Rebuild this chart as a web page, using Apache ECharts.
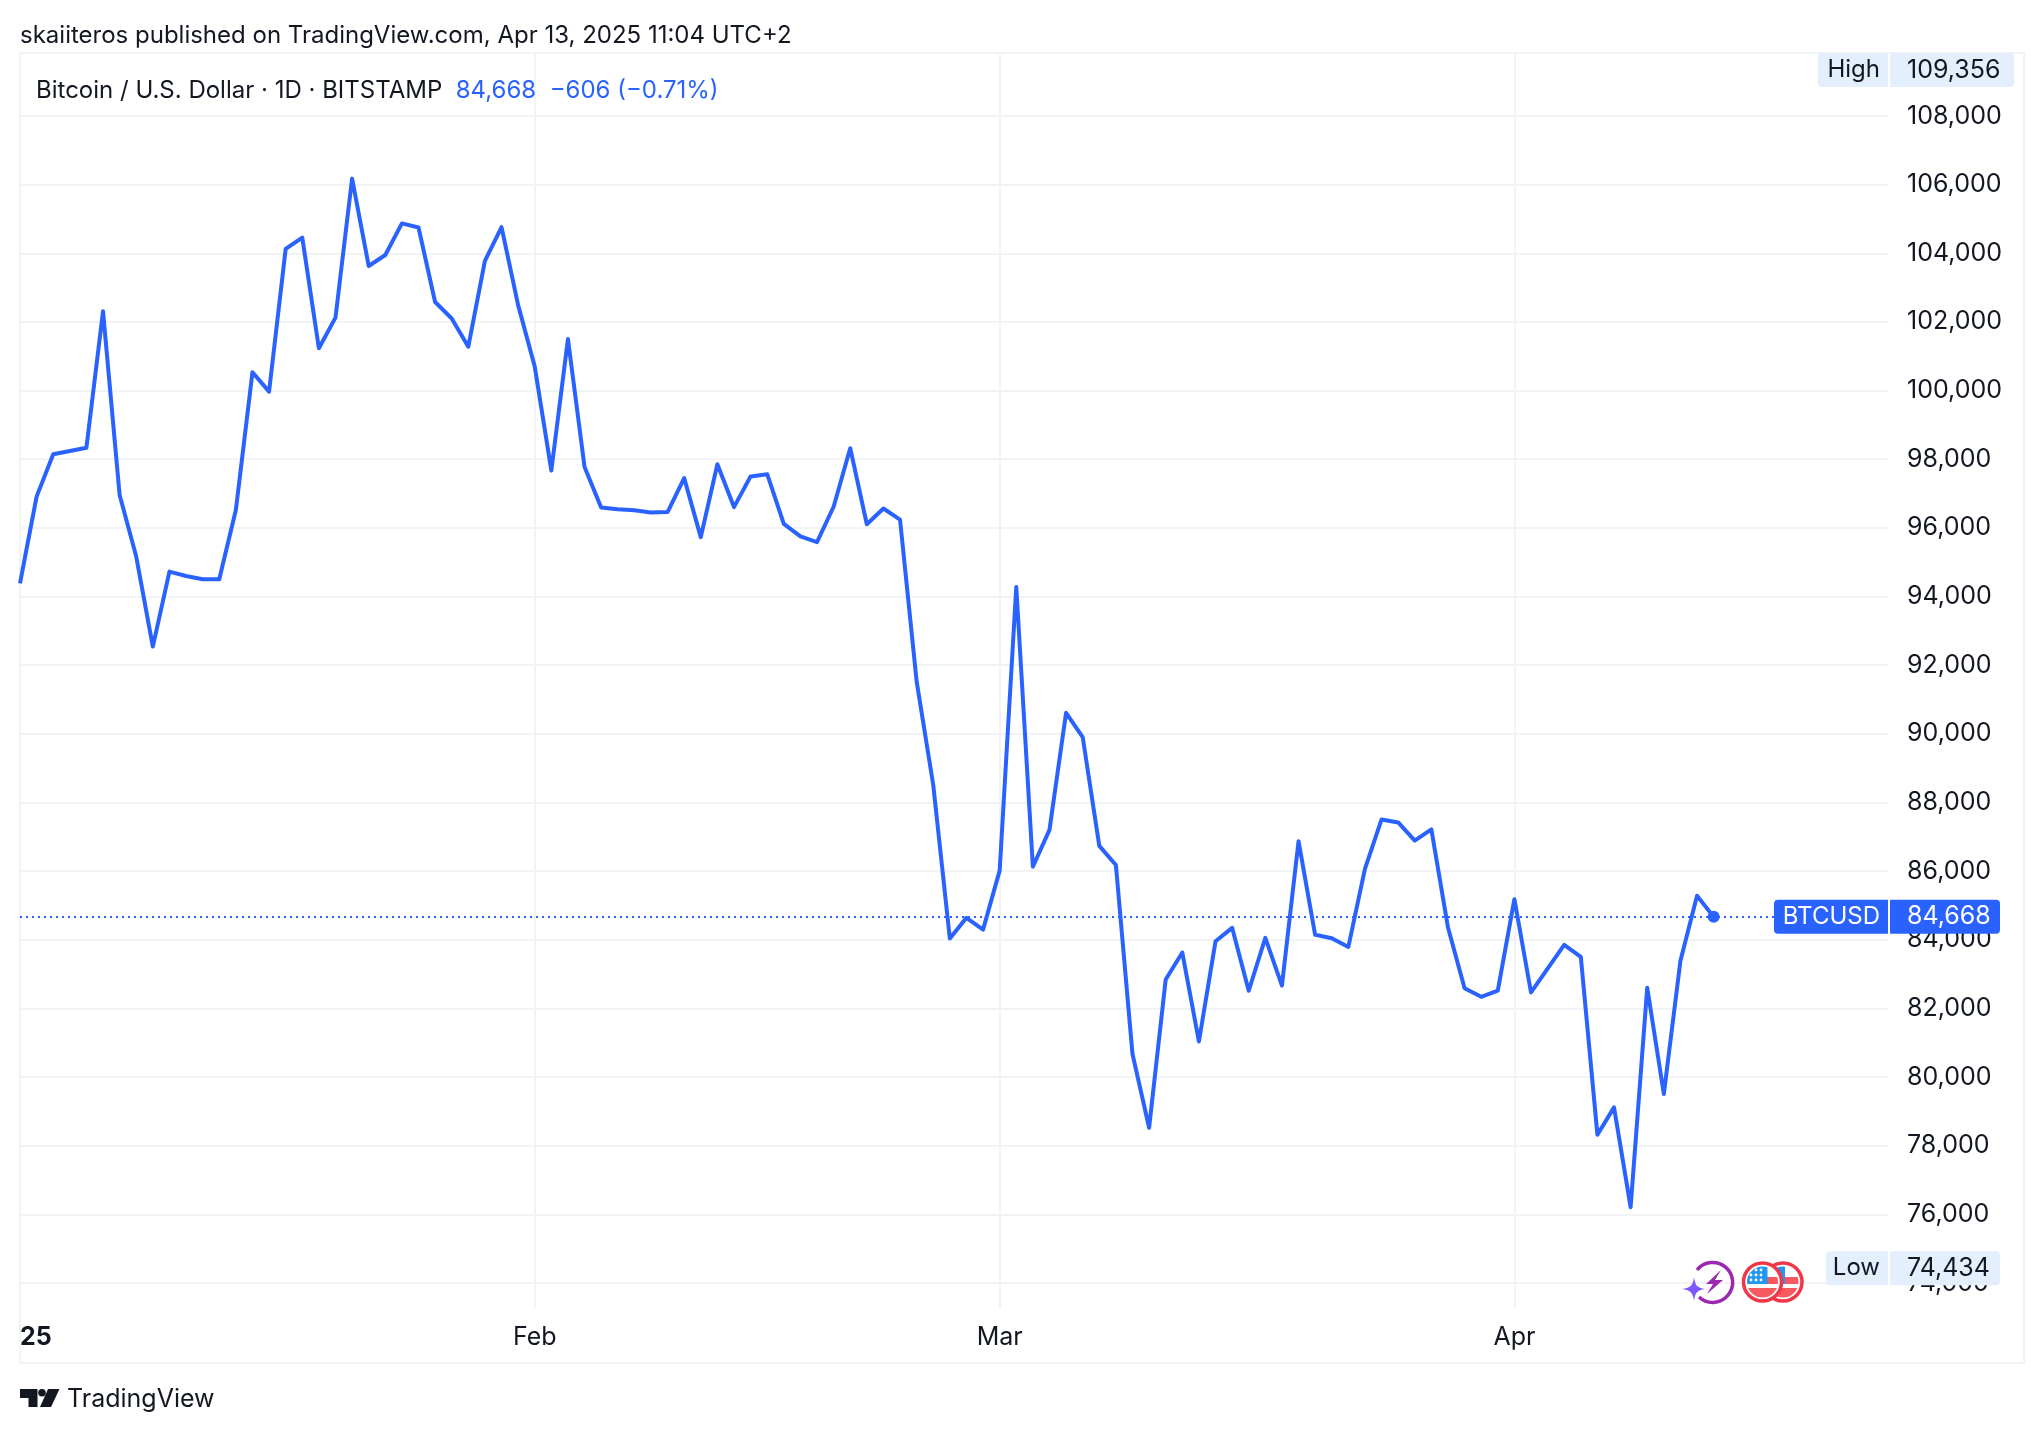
<!DOCTYPE html>
<html>
<head>
<meta charset="utf-8">
<title>BTCUSD daily</title>
<style>html,body{margin:0;padding:0;background:#fff}#chart{display:block;width:2044px;height:1434px}</style>
<script src="https://cdn.jsdelivr.net/npm/echarts@6/dist/echarts.min.js"></script>
</head>
<body>
<div id="chart"></div>
<script>
// Daily closes, 1 Jan 2025 to 13 Apr 2025 (day 0 = 1 Jan)
const closes = [
  94387, 96911, 98144, 98240, 98337, 102310, 96960, 95164, 92542, 94727,
  94600, 94503, 94503, 96520, 100533, 99970, 104126, 104456, 101232, 102126,
  106175, 103630, 103950, 104870, 104750, 102580, 102100, 101280, 103780, 104760,
  102490, 100700, 97670, 101503, 97771, 96595, 96543, 96512, 96450, 96460,
  97449, 95732, 97854, 96606, 97500, 97563, 96117, 95752, 95586, 96616,
  98322, 96106, 96564, 96241, 91528, 88510, 84036, 84640, 84297, 86014,
  94278, 86129, 87203, 90614, 89906, 86735, 86180, 80671, 78523, 82844,
  83628, 81038, 83956, 84348, 82516, 84057, 82667, 86874, 84145, 84045,
  83792, 86066, 87506, 87418, 86887, 87216, 84360, 82591, 82339, 82516,
  85182, 82465, 83160, 83855, 83501, 78321, 79117, 76211, 82604, 79509,
  83387, 85283, 84668
];
const monthTicks = [0, 31, 59, 90];
const monthLabels = ['25', 'Feb', 'Mar', 'Apr'];
const priceTicks = [108000, 106000, 104000, 102000, 100000, 98000, 96000, 94000, 92000, 90000, 88000, 86000, 84000, 82000, 80000, 78000, 76000, 74000];
const lastPrice = 84668;
const highPrice = 109356;
const lowPrice = 74434;

const publishLine = 'skaiiteros published on TradingView.com, Apr 13, 2025 11:04 UTC+2';
const symbolLine = 'Bitcoin / U.S. Dollar · 1D · BITSTAMP';
const changeLine = '84,668  −606 (−0.71%)';
const brand = 'TradingView';

const BLUE = '#2962ff';
const INK = '#131722';
const RULE = '#f2f3f5';
const PALE = '#e3effd';
const FONT = 'Inter, "Noto Sans", sans-serif';
const AXIS_FONT = 25;

const fmt = v => v.toLocaleString('en-US');
const badges = [
  { name: 'High', value: highPrice, left: -70, right: 126, bg: PALE, fg: INK },
  { name: 'Low', value: lowPrice, left: -62, right: 112, bg: PALE, fg: INK },
  { name: 'BTCUSD', value: lastPrice, left: -114, right: 112, bg: BLUE, fg: '#ffffff' }
];

// Price tags on the right: a name cell left of the pane edge, a value cell over the price scale.
function renderBadge(params, api) {
  const b = badges[params.dataIndex];
  const edge = params.coordSys.x + params.coordSys.width;
  const y = api.coord([0, b.value])[1];
  const h = 34;
  const top = Math.max(y - h / 2, params.coordSys.y);
  const mid = top + h / 2;
  const txt = (text, x, align, fill, size) => ({
    type: 'text', z2: 5,
    style: { text, x, y: mid, align, verticalAlign: 'middle', fill, font: `${size}px ${FONT}` }
  });
  return {
    type: 'group',
    children: [
      { type: 'rect', shape: { x: edge + b.left, y: top, width: -b.left, height: h, r: [4, 0, 0, 4] }, style: { fill: b.bg } },
      { type: 'rect', shape: { x: edge + 2, y: top, width: b.right - 2, height: h, r: [0, 4, 4, 0] }, style: { fill: b.bg } },
      txt(b.name, edge - 8, 'right', b.fg, 24),
      txt(fmt(b.value), edge + 19, 'left', b.fg, AXIS_FONT)
    ]
  };
}

const starDots = [[81, 21], [86, 21], [91, 21], [81, 26], [86, 26], [91, 26], [81, 31], [86, 31], [91, 31]]
  .map(p => `<circle cx="${p[0]}" cy="${p[1]}" r="1.4" fill="#fff"/>`).join('');

// Event markers sitting on the time scale: the lightning ring and the two flag coins.
const flagSvg = 'data:image/svg+xml;utf8,' + encodeURIComponent(
  '<svg xmlns="http://www.w3.org/2000/svg" width="140" height="60" viewBox="0 0 140 60">' +
  '<defs><clipPath id="a"><circle cx="113" cy="33" r="15.5"/></clipPath><clipPath id="b"><circle cx="92.5" cy="33" r="15.5"/></clipPath></defs>' +
  '<circle cx="113" cy="33" r="19" fill="#fff" stroke="#f23645" stroke-width="3.5"/>' +
  '<g clip-path="url(#a)"><rect x="96" y="17" width="33" height="32" fill="#fff"/><rect x="96" y="28" width="33" height="7" fill="#f7595f"/><rect x="96" y="39" width="33" height="10" fill="#f7595f"/><rect x="96" y="17" width="19" height="18" fill="#2196f3"/></g>' +
  '<circle cx="92.5" cy="33" r="19" fill="#fff" stroke="#f23645" stroke-width="3.5"/>' +
  '<g clip-path="url(#b)"><rect x="76" y="17" width="33" height="32" fill="#fff"/><rect x="97" y="28" width="12" height="7" fill="#f7595f"/><rect x="76" y="39" width="33" height="10" fill="#f7595f"/><rect x="76" y="17" width="21.5" height="18" fill="#2196f3"/>' + starDots + '</g>' +
  '<path d="M27 21 A20 20 0 1 1 29 48" fill="none" stroke="#9c27b0" stroke-width="3.5"/>' +
  '<path d="M51 21 L36 35 L43 35 L37 45 L53 31 L45 31 Z" fill="#9c27b0"/>' +
  '<path d="M24 28 C25 36 27 39 35 40 C27 41 25 44 24 52 C23 44 21 41 12 40 C21 39 23 36 24 28 Z" fill="#7e57ff"/>' +
  '</svg>');

const chart = echarts.init(document.getElementById('chart'), null, { renderer: 'canvas' });

chart.setOption({
  animation: false,
  backgroundColor: '#ffffff',
  textStyle: { fontFamily: FONT },
  title: {
    text: publishLine, left: 20, top: 24, padding: 0,
    textStyle: { fontFamily: FONT, fontSize: 24, fontWeight: 400, color: INK }
  },
  grid: { left: 20, top: 53, right: 156, bottom: 126, containLabel: false },
  xAxis: {
    type: 'value', min: 0, max: 112.5,
    axisLine: { show: false },
    axisTick: { show: false, customValues: monthTicks },
    splitLine: { show: true, lineStyle: { color: RULE, width: 2 } },
    axisLabel: {
      customValues: monthTicks,
      margin: 17,
      alignMinLabel: 'left',
      hideOverlap: false,
      fontSize: AXIS_FONT, color: INK, fontFamily: FONT,
      formatter: v => {
        const i = monthTicks.indexOf(v);
        return i === 0 ? `{y|${monthLabels[i]}}` : monthLabels[i];
      },
      rich: { y: { fontWeight: 700, fontSize: AXIS_FONT, color: INK, fontFamily: FONT } }
    }
  },
  yAxis: {
    type: 'value', position: 'right', min: 73273, max: 109835,
    axisLine: { show: false },
    axisTick: { show: false, customValues: priceTicks },
    splitLine: { show: true, lineStyle: { color: RULE, width: 2 } },
    axisLabel: {
      customValues: priceTicks,
      margin: 19, align: 'left',
      padding: [0, 0, 4, 0],
      showMinLabel: true, showMaxLabel: true,
      fontSize: AXIS_FONT, color: INK, fontFamily: FONT,
      formatter: v => fmt(v)
    }
  },
  series: [
    {
      type: 'line', name: 'BTCUSD',
      data: closes.map((c, i) => [i, c]),
      showSymbol: false, smooth: false, z: 3,
      lineStyle: { color: BLUE, width: 4, join: 'round' },
      markLine: {
        silent: true, symbol: 'none', animation: false,
        label: { show: false },
        lineStyle: { color: BLUE, width: 2, type: [2, 4] },
        data: [{ yAxis: lastPrice }]
      }
    },
    {
      type: 'scatter', name: 'last',
      data: [[closes.length - 1, lastPrice]],
      symbol: 'circle', symbolSize: 12, z: 4,
      itemStyle: { color: BLUE, opacity: 1 }
    },
    {
      type: 'custom', name: 'tags', z: 6, clip: false,
      data: badges.map(b => [0, b.value]),
      encode: { x: 0, y: 1 },
      renderItem: renderBadge
    }
  ],
  graphic: [
    { type: 'rect', z: -1, silent: true, shape: { x: 20, y: 53, width: 2004, height: 1310 }, style: { fill: 'none', stroke: RULE, lineWidth: 2 } },
    { type: 'image', z: 7, silent: true, style: { image: flagSvg, x: 1670, y: 1249, width: 140, height: 60 } },
    {
      type: 'text', z: 7, silent: true,
      style: {
        x: 36, y: 91, verticalAlign: 'middle',
        text: `{a|${symbolLine}}{b|  ${changeLine}}`,
        rich: {
          a: { fontSize: 24, fontFamily: FONT, fill: INK, color: INK },
          b: { fontSize: 24, fontFamily: FONT, fill: BLUE, color: BLUE }
        }
      }
    },
    // TradingView mark
    { type: 'polygon', silent: true, shape: { points: [[20, 1389], [37.5, 1389], [37.5, 1407], [28.5, 1407], [28.5, 1398], [20, 1398]] }, style: { fill: INK } },
    { type: 'circle', silent: true, shape: { cx: 42, cy: 1392.7, r: 3.8 }, style: { fill: INK } },
    { type: 'polygon', silent: true, shape: { points: [[48, 1389], [59.5, 1389], [51, 1407], [40, 1407]] }, style: { fill: INK } },
    {
      type: 'text', silent: true,
      style: { x: 67, y: 1399, verticalAlign: 'middle', text: brand, fontSize: 25, fontFamily: FONT, fill: INK }
    }
  ]
});
</script>
</body>
</html>
